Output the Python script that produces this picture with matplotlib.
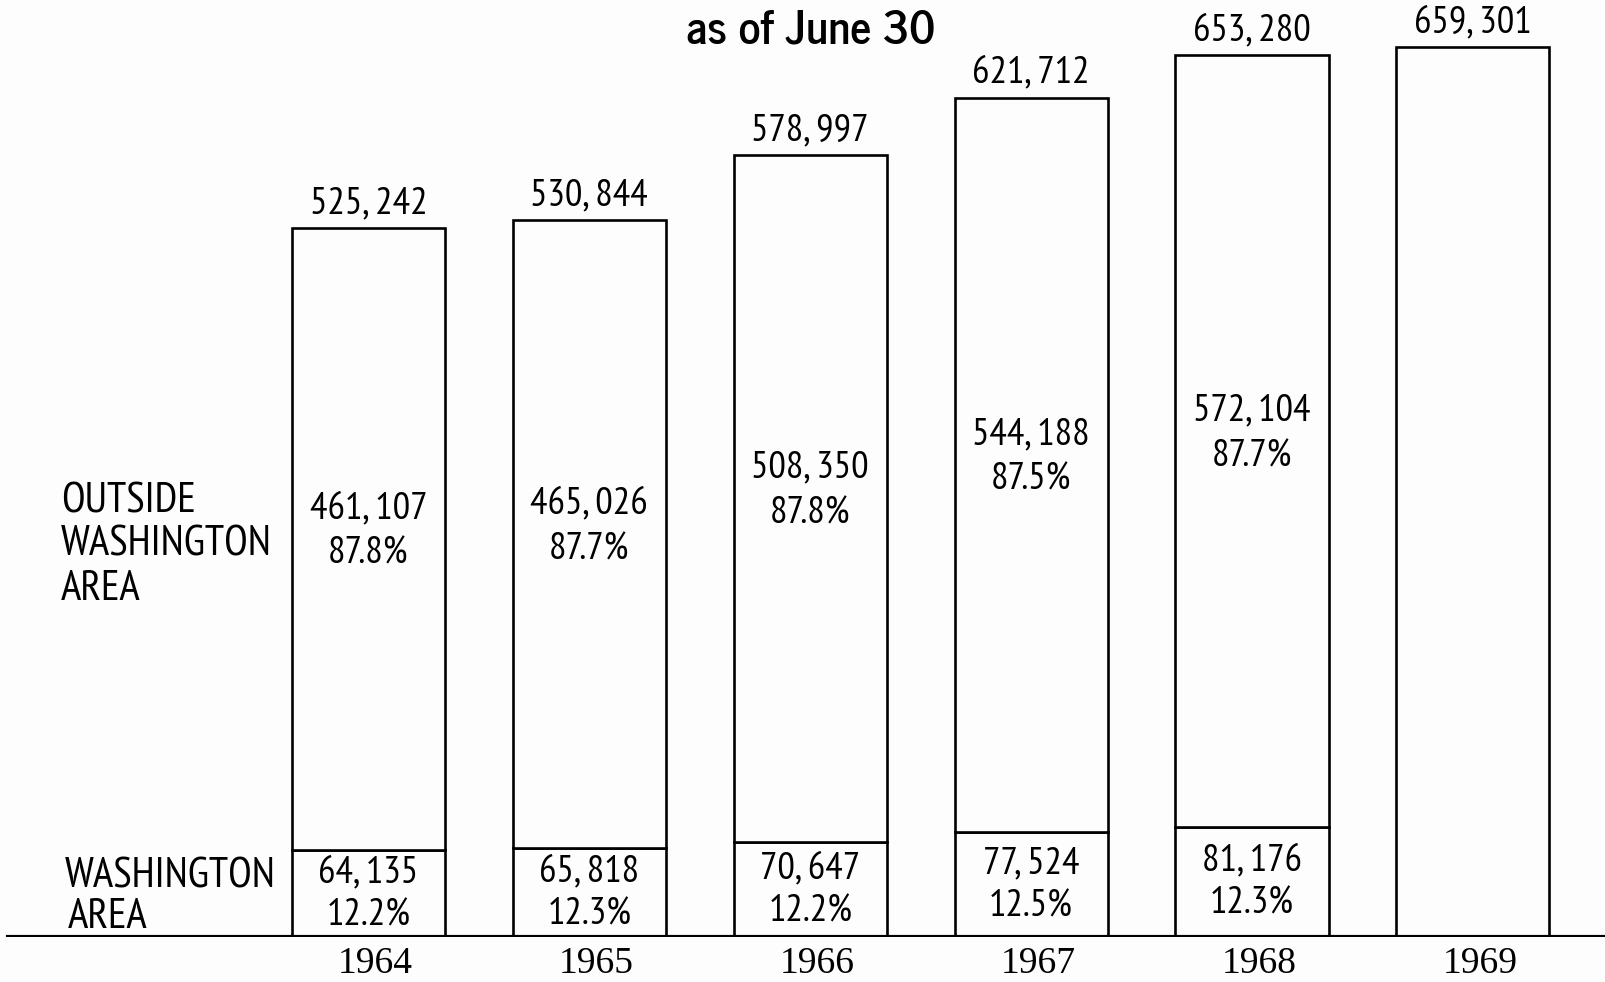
import matplotlib
matplotlib.use("Agg")
import matplotlib.pyplot as plt
from matplotlib.transforms import ScaledTranslation

years = ["1964", "1965", "1966", "1967", "1968", "1969"]
totals = [525242, 530844, 578997, 621712, 653280, 659301]
washington = [64135, 65818, 70647, 77524, 81176, None]
outside = [461107, 465026, 508350, 544188, 572104, None]
wash_pct = ["12.2%", "12.3%", "12.2%", "12.5%", "12.3%", None]
out_pct = ["87.8%", "87.7%", "87.8%", "87.5%", "87.7%", None]

W, H = 1605, 982
BG = "#fdfdfd"
fig = plt.figure(figsize=(W / 100, H / 100), dpi=100)
fig.patch.set_facecolor(BG)

base_px = 45
ax = fig.add_axes([0, base_px / H, 1, (H - base_px) / H])
ax.set_facecolor("none")
px_per_unit = 0.00135
ax.set_ylim(0, (H - base_px) / px_per_unit)
ax.set_xlim(-1.668, 5.598)

num_font = ["PT Sans Narrow", "Roboto Condensed", "DejaVu Sans"]
title_font = ["News Cycle", "PT Sans Narrow", "DejaVu Sans"]
serif_font = ["Liberation Serif", "DejaVu Serif"]
FS = 28
LW = 1.9


def fmt(v):
    return f"{v:,}".replace(",", ", ")


x = list(range(len(years)))
bw = 0.693
for i in x:
    if washington[i] is not None:
        ax.bar(i, washington[i], width=bw, bottom=0, facecolor=BG,
               edgecolor="black", linewidth=LW)
        ax.bar(i, outside[i], width=bw, bottom=washington[i], facecolor=BG,
               edgecolor="black", linewidth=LW)
        ym = washington[i] / 2
        ax.annotate(fmt(washington[i]), (i, ym), xytext=(0, 15), textcoords="offset points",
                    ha="center", va="center", fontsize=FS, family=num_font)
        ax.annotate(wash_pct[i], (i, ym), xytext=(0, -16), textcoords="offset points",
                    ha="center", va="center", fontsize=FS, family=num_font)
        yo = washington[i] + outside[i] / 2
        ax.annotate(fmt(outside[i]), (i, yo), xytext=(0, 22), textcoords="offset points",
                    ha="center", va="center", fontsize=FS, family=num_font)
        ax.annotate(out_pct[i], (i, yo), xytext=(0, -11), textcoords="offset points",
                    ha="center", va="center", fontsize=FS, family=num_font)
    else:
        ax.bar(i, totals[i], width=bw, bottom=0, facecolor=BG,
               edgecolor="black", linewidth=LW)
    ax.annotate(fmt(totals[i]), (i, totals[i]), xytext=(0, 5), textcoords="offset points",
                ha="center", va="bottom", fontsize=FS, family=num_font)

ax.axhline(0, xmin=8 / W, xmax=1, color="black", linewidth=3.0, zorder=5)

ax.set_xticks(x)
ax.set_xticklabels(years, fontsize=27, family=serif_font)
ax.tick_params(axis="x", length=0, pad=7)
shift = ScaledTranslation(7 / 100, 0, fig.dpi_scale_trans)
for lab in ax.get_xticklabels():
    lab.set_transform(lab.get_transform() + shift)
ax.set_yticks([])
for s in ax.spines.values():
    s.set_visible(False)

fig.text(811 / W, 1 - 31 / H, "as of June 30", ha="center", va="center",
         fontsize=33, fontweight="bold", family=title_font)

LFS = 31
for txt, yy in [("OUTSIDE", 502), ("WASHINGTON", 545), ("AREA", 589)]:
    fig.text(61 / W, 1 - yy / H, txt, ha="left", va="center", fontsize=LFS, family=num_font)
for txt, yy, xx in [("WASHINGTON", 877, 65), ("AREA", 917, 68)]:
    fig.text(xx / W, 1 - yy / H, txt, ha="left", va="center", fontsize=LFS, family=num_font)

fig.savefig("out.png", dpi=100, facecolor=fig.get_facecolor())
